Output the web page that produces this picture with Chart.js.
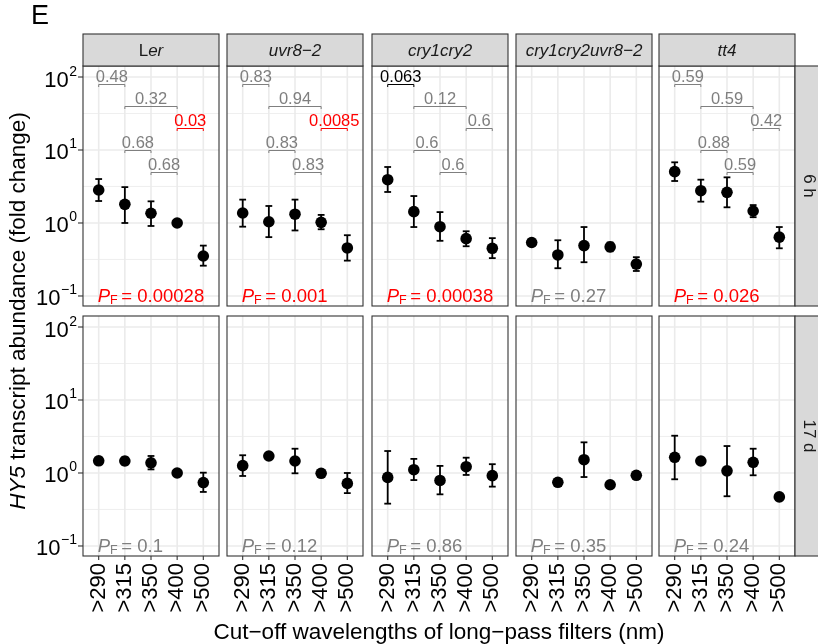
<!DOCTYPE html>
<html>
<head>
<meta charset="utf-8">
<script src="https://cdn.jsdelivr.net/npm/chart.js@4.4.1/dist/chart.umd.min.js"></script>
<style>
  html, body { margin: 0; padding: 0; background: #ffffff; }
  #fig { position: relative; width: 818px; height: 644px; overflow: hidden; background: #ffffff; }
  #fig canvas { position: absolute; left: 0; top: 0; }
</style>
</head>
<body>
<div id="fig"></div>
<script>
// ---- data ---------------------------------------------------------------
const genotypes = ['Ler', 'uvr8\u22122', 'cry1cry2', 'cry1cry2uvr8\u22122', 'tt4'];
const timepoints = ['6 h', '17 d'];
const filterLabels = ['>290', '>315', '>350', '>400', '>500'];
const yTickValues = [0.1, 1, 10, 100];
const yTickExponents = ['\u22121', '0', '1', '2'];

// HY5 fold change, 6 h (one row per genotype, one value per filter)
const mean6h = [
  [2.83, 1.80, 1.36, 1.00, 0.353],
  [1.37, 1.04, 1.32, 1.02, 0.455],
  [3.92, 1.43, 0.89, 0.61, 0.45],
  [0.54, 0.365, 0.49, 0.47, 0.274],
  [5.05, 2.77, 2.63, 1.46, 0.64]
];
const lower6h = [
  [2.00, 1.00, 0.91, null, 0.26],
  [0.89, 0.64, 0.79, 0.82, 0.305],
  [2.66, 0.88, 0.57, 0.48, 0.33],
  [null, 0.24, 0.29, 0.41, 0.22],
  [3.76, 1.96, 1.64, 1.20, 0.45]
];
const upper6h = [
  [4.00, 3.10, 1.98, null, 0.49],
  [2.09, 1.71, 2.09, 1.29, 0.68],
  [5.85, 2.34, 1.41, 0.77, 0.62],
  [null, 0.58, 0.88, 0.54, 0.34],
  [6.78, 3.92, 4.22, 1.76, 0.88]
];

// HY5 fold change, 17 d
const mean17d = [
  [1.47, 1.46, 1.38, 1.00, 0.74],
  [1.26, 1.71, 1.46, 0.99, 0.72],
  [0.87, 1.11, 0.79, 1.22, 0.92],
  [null, 0.745, 1.52, 0.69, 0.93],
  [1.64, 1.46, 1.07, 1.40, 0.47]
];
const lower17d = [
  [1.34, 1.30, 1.12, null, 0.55],
  [0.91, null, 0.99, null, 0.53],
  [0.38, 0.80, 0.51, 0.94, 0.65],
  [null, null, 0.88, null, null],
  [0.82, null, 0.48, 0.93, null]
];
const upper17d = [
  [1.60, 1.64, 1.71, null, 1.01],
  [1.75, null, 2.15, null, 1.00],
  [2.00, 1.56, 1.25, 1.62, 1.32],
  [null, null, 2.63, null, null],
  [3.24, null, 2.34, 2.15, null]
];

// pairwise comparisons (filter positions) and their adjusted P values
const comparisonPairs = [[1, 2], [2, 4], [4, 5], [2, 3], [3, 4]];
const bracketLevels = [80, 40, 20, 10, 5];
const pairP6h = [
  ['0.48', '0.32', '0.03', '0.68', '0.68'],
  ['0.83', '0.94', '0.0085', '0.83', '0.83'],
  ['0.063', '0.12', '0.6', '0.6', '0.6'],
  null,
  ['0.59', '0.59', '0.42', '0.88', '0.59']
];
const pairP17d = [null, null, null, null, null];

// overall test P values
const pF6h = ['0.00028', '0.001', '0.00038', '0.27', '0.026'];
const pF17d = ['0.1', '0.12', '0.86', '0.35', '0.24'];

// ---- layout -------------------------------------------------------------
const W = 818, H = 644;
const PANEL_W = 136, PANEL_H = 240, STRIP_H = 32;
const colLeft = [83, 227, 372, 516, 659];
const rowTop = [66, 316];
const Y_MIN = 0.0729, Y_MAX = 141.5;

const FONT = '"Liberation Sans", Arial, Helvetica, sans-serif';
const GREY = '#7F7F7F', RED = '#FF0000', FRAME = '#333333', GRID = '#EBEBEB', STRIP = '#D9D9D9', INK = '#1A1A1A';

const means = [mean6h, mean17d];
const lowers = [lower6h, lower17d];
const uppers = [upper6h, upper17d];
const pairLabels = [pairP6h, pairP17d];
const pF = [pF6h, pF17d];

// minor grid lines sit halfway (in log space) between the decades
const minorBreaks = yTickValues.slice(1).map((v, i) => Math.sqrt(v * yTickValues[i]));

function pColour(s) {
  const v = parseFloat(s);
  return v < 0.05 ? RED : (v < 0.1 ? '#000000' : GREY);
}
function hline(ctx, x1, x2, y) { ctx.beginPath(); ctx.moveTo(x1, y); ctx.lineTo(x2, y); ctx.stroke(); }
function vline(ctx, x, y1, y2) { ctx.beginPath(); ctx.moveTo(x, y1); ctx.lineTo(x, y2); ctx.stroke(); }

// draws a sequence of [text, font, dy] pieces starting at (x, y), left to right
function drawPieces(ctx, pieces, x, y) {
  pieces.forEach(([t, f, dy]) => {
    ctx.font = f;
    ctx.fillText(t, x, y + (dy || 0));
    x += ctx.measureText(t).width;
  });
}
function piecesWidth(ctx, pieces) {
  return pieces.reduce((s, [t, f]) => { ctx.font = f; return s + ctx.measureText(t).width; }, 0);
}

function stripPieces(name) {
  if (name === 'Ler') return [['L', `17px ${FONT}`], ['er', `italic 17px ${FONT}`]];
  return [[name, `italic 17px ${FONT}`]];
}

function facetPlugin(row, col) {
  const m = means[row][col], lo = lowers[row][col], hi = uppers[row][col];
  return {
    id: 'facet',
    beforeDatasetsDraw(chart) {
      const { ctx, chartArea: a, scales: { x, y } } = chart;
      ctx.save();
      ctx.strokeStyle = GRID;
      ctx.lineWidth = 0.8;
      minorBreaks.forEach(v => hline(ctx, a.left, a.right, y.getPixelForValue(v)));
      ctx.lineWidth = 1.6;
      yTickValues.forEach(v => hline(ctx, a.left, a.right, y.getPixelForValue(v)));
      filterLabels.forEach((_, i) => vline(ctx, x.getPixelForValue(i + 1), a.top, a.bottom));

      // error bars
      ctx.strokeStyle = '#000000';
      ctx.lineWidth = 1.8;
      m.forEach((v, i) => {
        if (v == null || lo[i] == null || hi[i] == null) return;
        const px = x.getPixelForValue(i + 1);
        const yTop = y.getPixelForValue(hi[i]);
        const yBot = y.getPixelForValue(lo[i]);
        vline(ctx, px, yTop, yBot);
        hline(ctx, px - 3.4, px + 3.4, yTop);
        hline(ctx, px - 3.4, px + 3.4, yBot);
      });
      ctx.restore();
    },
    afterDatasetsDraw(chart) {
      const { ctx, chartArea: a, scales: { x, y } } = chart;
      ctx.save();
      // significance brackets
      const labs = pairLabels[row][col];
      if (labs) {
        labs.forEach((lab, k) => {
          const [i1, i2] = comparisonPairs[k];
          const x1 = x.getPixelForValue(i1), x2 = x.getPixelForValue(i2);
          const py = Math.round(y.getPixelForValue(bracketLevels[k])) + 0.5;
          const c = pColour(lab);
          ctx.strokeStyle = c;
          ctx.lineWidth = 1;
          ctx.beginPath();
          ctx.moveTo(x1, py + 2.5); ctx.lineTo(x1, py); ctx.lineTo(x2, py); ctx.lineTo(x2, py + 2.5);
          ctx.stroke();
          ctx.fillStyle = c;
          ctx.font = `16.5px ${FONT}`;
          ctx.textAlign = 'center';
          ctx.textBaseline = 'alphabetic';
          ctx.fillText(lab, (x1 + x2) / 2, py - 2.5);
        });
      }
      // overall P value
      const pv = pF[row][col];
      ctx.fillStyle = pColour(pv);
      ctx.textAlign = 'left';
      ctx.textBaseline = 'alphabetic';
      drawPieces(ctx, [
        ['P', `italic 18.5px ${FONT}`],
        ['F', `12.5px ${FONT}`, 1.5],
        ['\u2009= ' + pv, `18.5px ${FONT}`]
      ], x.getPixelForValue(1) - 1, y.getPixelForValue(0.1) + 6.5);

      // panel frame
      ctx.strokeStyle = FRAME;
      ctx.lineWidth = 1.1;
      ctx.strokeRect(a.left, a.top, a.right - a.left, a.bottom - a.top);
      ctx.restore();
    },
    afterDraw(chart) {
      const { ctx, chartArea: a, scales: { x, y } } = chart;
      ctx.save();
      ctx.textBaseline = 'alphabetic';
      // column strip
      if (row === 0) {
        ctx.fillStyle = STRIP;
        ctx.fillRect(a.left, a.top - STRIP_H, a.right - a.left, STRIP_H);
        ctx.strokeStyle = FRAME;
        ctx.lineWidth = 1.1;
        ctx.strokeRect(a.left, a.top - STRIP_H, a.right - a.left, STRIP_H);
        ctx.fillStyle = INK;
        ctx.textAlign = 'left';
        const pcs = stripPieces(genotypes[col]);
        const w = piecesWidth(ctx, pcs);
        drawPieces(ctx, pcs, (a.left + a.right) / 2 - w / 2, a.top - STRIP_H / 2 + 6);
      }
      // row strip
      if (col === genotypes.length - 1) {
        ctx.fillStyle = STRIP;
        ctx.fillRect(a.right, a.top, 30, a.bottom - a.top);
        ctx.strokeStyle = FRAME;
        ctx.lineWidth = 1.1;
        ctx.strokeRect(a.right, a.top, 30, a.bottom - a.top);
        ctx.fillStyle = INK;
        ctx.translate(a.right + 13.5, (a.top + a.bottom) / 2);
        ctx.rotate(Math.PI / 2);
        ctx.font = `17px ${FONT}`;
        ctx.textAlign = 'center';
        ctx.textBaseline = 'middle';
        ctx.fillText(timepoints[row], 0, 0);
        ctx.setTransform(1, 0, 0, 1, 0, 0);
        ctx.textBaseline = 'alphabetic';
      }
      // y axis
      if (col === 0) {
        ctx.strokeStyle = FRAME;
        ctx.lineWidth = 1.1;
        ctx.fillStyle = '#000000';
        yTickValues.forEach((v, i) => {
          const py = y.getPixelForValue(v);
          hline(ctx, a.left - 5, a.left, py);
          ctx.font = `14px ${FONT}`;
          const we = ctx.measureText(yTickExponents[i]).width;
          ctx.font = `22px ${FONT}`;
          const wb = ctx.measureText('10').width;
          const right = a.left - 6;
          ctx.textAlign = 'left';
          ctx.fillText('10', right - we - wb - 0.5, py + 9.5);
          ctx.font = `14px ${FONT}`;
          ctx.fillText(yTickExponents[i], right - we, py - 1.5);
        });
      }
      // x axis
      if (row === timepoints.length - 1) {
        ctx.strokeStyle = FRAME;
        ctx.lineWidth = 1.1;
        ctx.fillStyle = '#000000';
        ctx.font = `22px ${FONT}`;
        filterLabels.forEach((lab, i) => {
          const px = x.getPixelForValue(i + 1);
          vline(ctx, px, a.bottom, a.bottom + 4);
          ctx.save();
          ctx.translate(px, a.bottom + 7);
          ctx.rotate(-Math.PI / 2);
          ctx.textAlign = 'right';
          ctx.textBaseline = 'middle';
          ctx.fillText(lab, 0, 0);
          ctx.restore();
        });
      }
      // figure-level text, drawn once
      if (row === 0 && col === 0) {
        ctx.fillStyle = '#000000';
        ctx.textAlign = 'left';
        ctx.font = `27px ${FONT}`;
        ctx.fillText('E', 31, 24);

        ctx.font = `22.5px ${FONT}`;
        ctx.textAlign = 'center';
        const xMid = (colLeft[0] + colLeft[colLeft.length - 1] + PANEL_W) / 2;
        ctx.fillText('Cut\u2212off wavelengths of long\u2212pass filters (nm)', xMid, 639);

        const yPieces = [
          ['HY5', `italic 22.5px ${FONT}`],
          [' transcript abundance (fold change)', `22.5px ${FONT}`]
        ];
        const tw = piecesWidth(ctx, yPieces);
        const yMid = (rowTop[0] + rowTop[rowTop.length - 1] + PANEL_H) / 2;
        ctx.translate(24.5, yMid);
        ctx.rotate(-Math.PI / 2);
        ctx.textAlign = 'left';
        drawPieces(ctx, yPieces, -tw / 2, 0);
        ctx.setTransform(1, 0, 0, 1, 0, 0);
      }
      ctx.restore();
    }
  };
}

// ---- one chart per facet -----------------------------------------------
const fig = document.getElementById('fig');
timepoints.forEach((tp, row) => {
  genotypes.forEach((g, col) => {
    const cv = document.createElement('canvas');
    cv.width = W; cv.height = H;
    cv.style.width = W + 'px'; cv.style.height = H + 'px';
    fig.appendChild(cv);
    const pts = means[row][col]
      .map((v, i) => ({ x: i + 1, y: v }))
      .filter(p => p.y != null);
    new Chart(cv, {
      type: 'scatter',
      data: {
        datasets: [{
          label: `${g} ${tp}`,
          data: pts,
          pointRadius: 5.8,
          pointHoverRadius: 5.8,
          pointBorderWidth: 0,
          pointBackgroundColor: '#000000',
          borderColor: '#000000',
          backgroundColor: '#000000',
          showLine: false,
          clip: false
        }]
      },
      options: {
        responsive: false,
        devicePixelRatio: 1,
        animation: false,
        events: [],
        layout: {
          padding: {
            left: colLeft[col],
            top: rowTop[row],
            right: W - colLeft[col] - PANEL_W,
            bottom: H - rowTop[row] - PANEL_H
          }
        },
        scales: {
          x: { type: 'linear', min: 0.4, max: 5.6, bounds: 'data', display: false },
          y: { type: 'logarithmic', min: Y_MIN, max: Y_MAX, display: false }
        },
        plugins: {
          legend: { display: false },
          tooltip: { enabled: false },
          title: { display: false }
        }
      },
      plugins: [facetPlugin(row, col)]
    });
  });
});
</script>
</body>
</html>
